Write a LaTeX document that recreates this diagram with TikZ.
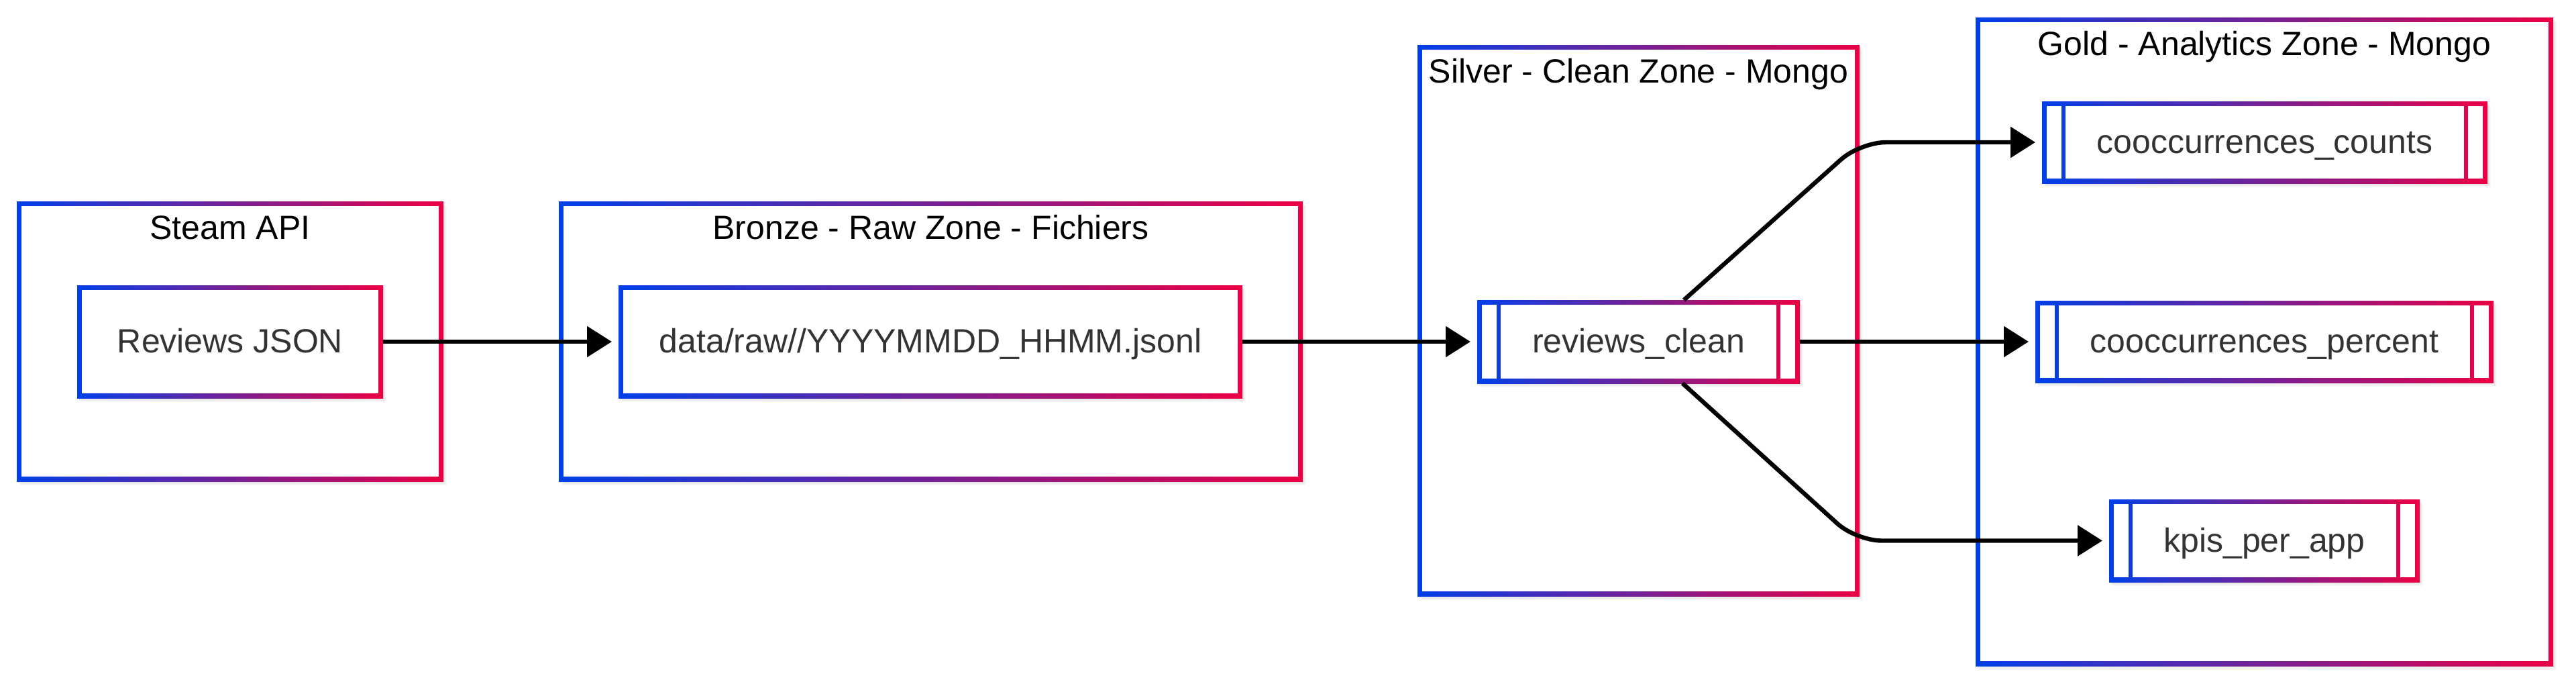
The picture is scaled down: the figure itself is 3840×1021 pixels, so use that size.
\documentclass[tikz,border=0pt]{standalone}
\usepackage{fontspec}
\setmainfont{Liberation Sans}
\usetikzlibrary{arrows.meta,shadows,calc}
\definecolor{cblue}{RGB}{0,64,232}
\definecolor{cred}{RGB}{236,0,68}
\definecolor{ctext}{HTML}{333333}
\tikzset{
  softshadow/.style={
    general shadow={fill=black, fill opacity=0.035, shadow xshift=0.4pt, shadow yshift=-0.5pt},
    general shadow={fill=black, fill opacity=0.035, shadow xshift=0.8pt, shadow yshift=-1.0pt},
    general shadow={fill=black, fill opacity=0.035, shadow xshift=1.3pt, shadow yshift=-1.5pt}},
  txt/.style={font=\fontsize{12.5pt}{15pt}\selectfont},
  gbox/.style={rectangle, inner sep=0pt, outer sep=0pt, fill=white, softshadow, txt, text=ctext,
    text height=8.75pt, text depth=0.4pt,
    path picture={
      \shade[left color=cblue,right color=cred] (path picture bounding box.south west) rectangle (path picture bounding box.north east);
      \fill[white] ([shift={(#1,#1)}]path picture bounding box.south west) rectangle ([shift={(-#1,-#1)}]path picture bounding box.north east);
    }},
  pbox/.style={rectangle, inner sep=0pt, outer sep=0pt, fill=white, softshadow, txt, text=ctext,
    text height=8.75pt, text depth=0.4pt,
    path picture={
      \shade[left color=cblue,right color=cred] (path picture bounding box.south west) rectangle (path picture bounding box.north east);
      \fill[white] ([shift={(1.65pt,1.65pt)}]path picture bounding box.south west) rectangle ([shift={(7.175pt,-1.65pt)}]path picture bounding box.north west);
      \fill[white] ([shift={(8.825pt,1.65pt)}]path picture bounding box.south west) rectangle ([shift={(-8.825pt,-1.65pt)}]path picture bounding box.north east);
      \fill[white] ([shift={(-7.175pt,1.65pt)}]path picture bounding box.south east) rectangle ([shift={(-1.65pt,-1.65pt)}]path picture bounding box.north east);
    }},
  title/.style={txt, text=black, anchor=base, inner sep=0pt},
  conn/.style={line width=1.6pt, black, -{Triangle[length=9.25pt,width=11.25pt]}, shorten >=2.5pt}
}
\begin{document}
\begin{tikzpicture}[x=0.25pt,y=-0.25pt]
\useasboundingbox (0,0) rectangle (3840,1021);
\fill[white] (0,0) rectangle (3840,1021);

% containers
\node[gbox=1.7pt, minimum width=159pt, minimum height=104.25pt] (steam) at (343,508.5) {};
\node[gbox=1.7pt, minimum width=277.25pt, minimum height=104.25pt] (bronze) at (1387.5,508.5) {};
\node[gbox=1.7pt, minimum width=164.75pt, minimum height=205.25pt] (silver) at (2442.5,477.5) {};
\node[gbox=1.7pt, minimum width=215.25pt, minimum height=241.5pt] (gold) at (3375.5,509) {};

\node[title] (tsteam) at ([yshift=-14.2pt]steam.north) {Steam API};
\node[title] (tbronze) at ([yshift=-14.2pt]bronze.north) {Bronze - Raw Zone - Fichiers};
\node[title] (tsilver) at ([yshift=-14.2pt]silver.north) {Silver - Clean Zone - Mongo};
\node[title] (tgold) at ([yshift=-14.2pt]gold.north) {Gold - Analytics Zone - Mongo};

% inner nodes
\node[gbox=1.65pt, minimum width=114pt, minimum height=42pt] (rj) at (343,509) {Reviews JSON};
\node[gbox=1.65pt, minimum width=232.5pt, minimum height=42pt] (dr) at (1387,509) {data/raw//YYYYMMDD\_HHMM.jsonl};
\node[pbox, minimum width=120.25pt, minimum height=31pt] (rc) at (2442.5,509) {reviews\_clean};
\node[pbox, minimum width=166pt, minimum height=30.5pt] (cc) at (3376,212) {cooccurrences\_counts};
\node[pbox, minimum width=170.75pt, minimum height=30.5pt] (pc) at (3375.5,509) {cooccurrences\_percent};
\node[pbox, minimum width=115.75pt, minimum height=30.75pt] (kp) at (3375.5,805.5) {kpis\_per\_app};

% connectors
\coordinate (bu) at (2773,0);
\coordinate (bl) at (2767,0);
\draw[conn] (rj.east) -- (dr.west);
\draw[conn] (dr.east) -- (rc.west);
\draw[conn, rounded corners=9.5pt] ([xshift=16.9pt]rc.north) -- (bu |- cc.west) -- (cc.west);
\draw[conn] (rc.east) -- (pc.west);
\draw[conn, rounded corners=9.5pt] ([xshift=16.4pt]rc.south) -- (bl |- kp.west) -- (kp.west);
\end{tikzpicture}
\end{document}
